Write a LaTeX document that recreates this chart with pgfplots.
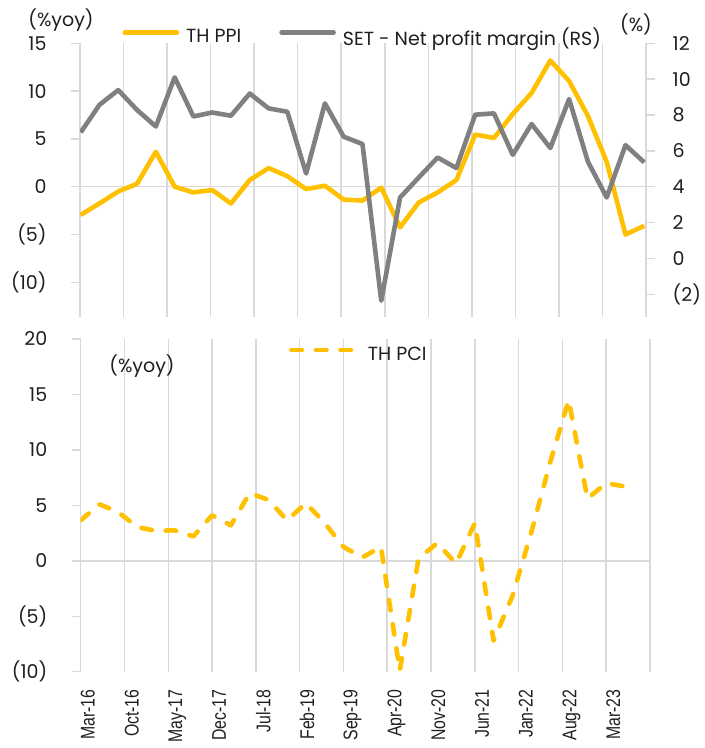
\documentclass[border=0pt]{standalone}
\usepackage{pgfplots}
\pgfplotsset{compat=1.18}
\usepackage{fontspec}
\setmainfont{Poppins}
\newfontfamily\xlabfont[FakeStretch=0.8]{Liberation Sans}
\definecolor{ppi}{HTML}{FFC000}
\definecolor{npm}{HTML}{808080}
\definecolor{gridc}{HTML}{D9D9D9}
\definecolor{txt}{HTML}{1F1F1F}
\newcommand{\fs}{\fontsize{19bp}{22bp}\selectfont}
\newcommand{\fx}{\xlabfont\fontsize{19.8bp}{22bp}\selectfont}
\pgfplotsset{
  common/.style={
    scale only axis,
    axis line style={draw=none},
    tick align=outside,
    major tick length=8.5bp,
    ytick style={gridc, line width=1.5bp},
    xtick style={draw=none},
    major grid style={gridc, line width=1.5bp},
    tick label style={font=\fs, text=txt},
    /pgf/number format/assume math mode=true,
  },
}
\begin{document}
\begin{tikzpicture}[font=\fs, text=txt]
\useasboundingbox (0,0) rectangle (705bp,748bp);

% ---------- top panel, left axis ----------
\begin{axis}[common,
  at={(80bp,431bp)}, anchor=south west,
  width=566bp, height=273.7bp,
  xmin=-0.112, xmax=90.277,
  ymin=-13.63, ymax=15,
  xtick={-0.112,6.841,13.794,20.747,27.700,34.653,41.606,48.559,55.512,62.465,69.418,76.371,83.324,90.277},
  xticklabels={}, xmajorgrids,
  ytick={-10,-5,0,5,10,15}, yticklabels={(10),(5),0,5,10,15},
  ytick pos=left,
  yticklabel style={anchor=east, inner sep=0pt},
  yticklabel shift=24.8bp,
]
\addplot[gridc, line width=1.5bp, forget plot] coordinates {(-0.112,0) (90.277,0)};
\addplot[ppi, line width=4.6bp, line join=round] coordinates {
(0,-2.95) (3,-1.75) (6,-0.5) (9,0.3) (12,3.65) (15,0.0) (18,-0.6) (21,-0.35)
(24,-1.75) (27,0.7) (30,1.95) (33,1.1) (36,-0.25) (39,0.1) (42,-1.35) (45,-1.45)
(48,-0.1) (51,-4.25) (54,-1.65) (57,-0.6) (60,0.7) (63,5.45) (66,5.1) (69,7.6)
(72,9.8) (75,13.2) (78,11.05) (81,7.4) (84,2.6) (87,-5.0) (90,-4.1)};
\end{axis}

% ---------- top panel, right axis ----------
\begin{axis}[common,
  at={(80bp,431bp)}, anchor=south west,
  width=566bp, height=273.7bp,
  xmin=-0.112, xmax=90.277,
  ymin=-3.265, ymax=12,
  xtick=\empty,
  ytick={-2,0,2,4,6,8,10,12}, yticklabels={(2),0,2,4,6,8,10,12},
  ytick pos=right,
  yticklabel style={anchor=west, inner sep=0pt},
  yticklabel shift=18bp,
  legend columns=2,
  legend style={at={(0.0751,1.023)}, anchor=west, draw=none, fill=none,
    inner sep=0pt, outer sep=0pt, font=\fs,
    nodes={inner sep=0pt, text=txt},
    /tikz/every odd column/.style={column sep=7bp},
    /tikz/every even column/.style={column sep=38bp}},
  legend image code/.code={\draw[#1, line cap=round] (0bp,4.5bp) -- (52bp,4.5bp);},
]
\addlegendimage{ppi, line width=4.6bp}
\addlegendentry{TH PPI}
\addplot[npm, line width=4.6bp, line join=round] coordinates {
(0,7.03) (3,8.57) (6,9.39) (9,8.28) (12,7.36) (15,10.10) (18,7.92) (21,8.14)
(24,7.96) (27,9.20) (30,8.37) (33,8.18) (36,4.74) (39,8.65) (42,6.79) (45,6.38)
(48,-2.36) (51,3.40) (54,4.52) (57,5.63) (60,5.04) (63,8.02) (66,8.09) (69,5.78)
(72,7.50) (75,6.16) (78,8.89) (81,5.40) (84,3.40) (87,6.32) (90,5.36)};
\addlegendentry{SET - Net profit margin (RS)}
\end{axis}

\node at (61bp,728bp) {(\%yoy)};
\node at (636bp,724bp) {(\%)};

% ---------- bottom panel ----------
\begin{axis}[common,
  at={(80.7bp,76.3bp)}, anchor=south west,
  width=569.3bp, height=332.7bp,
  xmin=0, xmax=91,
  ymin=-10, ymax=20,
  xtick={0,7,14,21,28,35,42,49,56,63,70,77,84,91},
  xticklabels={Mar-16,Oct-16,May-17,Dec-17,Jul-18,Feb-19,Sep-19,Apr-20,Nov-20,Jun-21,Jan-22,Aug-22,Mar-23,{}},
  xmajorgrids,
  xticklabel style={font=\fx, rotate=90, anchor=north east, inner sep=0pt, xshift=-2bp},
  xticklabel shift=7bp,
  ytick={-10,-5,0,5,10,15,20}, yticklabels={(10),(5),0,5,10,15,20},
  ytick pos=left,
  yticklabel style={anchor=east, inner sep=0pt},
  yticklabel shift=24.8bp,
  legend style={at={(0.3662,0.954)}, anchor=west, draw=none, fill=none,
    inner sep=0pt, outer sep=0pt, font=\fs,
    nodes={inner sep=0pt, text=txt},
    /tikz/every odd column/.style={column sep=14bp}},
  legend image code/.code={\draw[#1, line cap=round] (0bp,4.3bp) -- (60bp,4.3bp);},
]
\addplot[gridc, line width=1.5bp, forget plot] coordinates {(0,0) (91,0)};
\addplot[ppi, line width=4.6bp, line join=round, line cap=round, dash pattern=on 10.5bp off 14bp] coordinates {
(0,3.65) (3,5.09) (6,4.4) (9,3.05) (12,2.7) (15,2.75) (18,2.2) (21,4.1)
(24,3.2) (27,6.1) (30,5.5) (33,3.65) (36,5.2) (39,3.4) (42,1.26) (45,0.3)
(48,1.26) (51,-9.9) (54,0.2) (57,1.6) (60,-0.25) (63,3.4) (66,-7.2) (69,-3.2)
(72,2.5) (75,8.8) (78,14.5) (81,5.6) (84,7.0) (87,6.7)};
\addlegendentry{TH PCI}
\end{axis}

\node at (142bp,382bp) {(\%yoy)};
\end{tikzpicture}
\end{document}
